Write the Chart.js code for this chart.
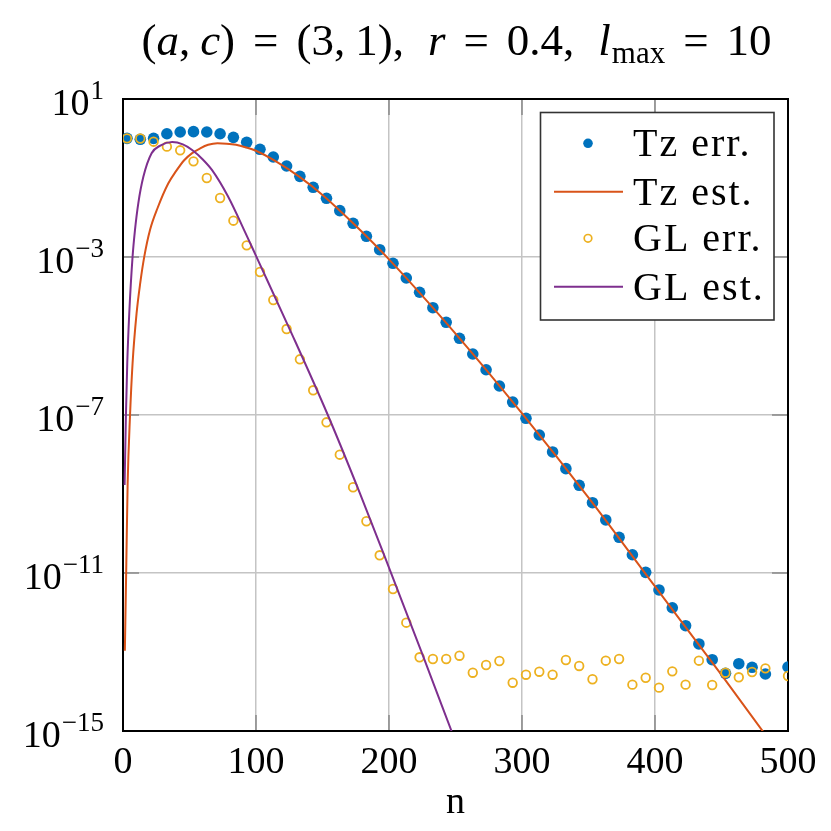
<!DOCTYPE html>
<html>
<head>
<meta charset="utf-8">
<script src="https://cdn.jsdelivr.net/npm/chart.js@4.4.1/dist/chart.umd.min.js"></script>
<style>
  html, body { margin: 0; padding: 0; background: #fff; }
  #wrap { width: 831px; height: 831px; }
</style>
</head>
<body>
<div id="wrap"><canvas id="errCanvas" width="831" height="831"></canvas></div>
<script>
// sample points (n) of the two error series
const nErr = [3, 13, 23, 33, 43, 53, 63, 73, 83, 93, 103, 113, 123, 133, 143, 153, 163, 173, 183, 193,
  203, 213, 223, 233, 243, 253, 263, 273, 283, 293, 303, 313, 323, 333, 343, 353, 363, 373, 383, 393,
  403, 413, 423, 433, 443, 453, 463, 473, 483, 500];

const tzErr = [1.01, 0.955, 1.01, 1.32, 1.46, 1.49, 1.46, 1.32, 1.07, 0.80, 0.533, 0.340, 0.201, 0.110,
  5.82e-2, 3.06e-2, 1.49e-2, 7.13e-3, 3.34e-3, 1.53e-3, 6.93e-4, 2.94e-4, 1.28e-4, 5.20e-5, 2.22e-5,
  8.75e-6, 3.50e-6, 1.40e-6, 5.42e-7, 2.13e-7, 8.24e-8, 3.12e-8, 1.16e-8, 4.38e-9, 1.66e-9, 6.03e-10,
  2.20e-10, 8.02e-11, 2.90e-11, 1.04e-11, 3.72e-12, 1.32e-12, 4.63e-13, 1.60e-13, 6.38e-14, 2.89e-14,
  5.06e-14, 4.10e-14, 2.77e-14, 4.17e-14];

const glErr = [1.01, 1.00, 0.83, 0.621, 0.502, 0.264, 0.100, 3.12e-2, 8.30e-3, 1.97e-3, 4.17e-4, 8.15e-5,
  1.50e-5, 2.57e-6, 4.22e-7, 6.53e-8, 9.89e-9, 1.48e-9, 2.04e-10, 2.81e-11, 3.94e-12, 5.52e-13, 7.35e-14,
  6.65e-14, 6.65e-14, 8.05e-14, 2.99e-14, 4.69e-14, 5.92e-14, 1.67e-14, 2.66e-14, 3.17e-14, 2.66e-14,
  6.27e-14, 4.43e-14, 2.04e-14, 6.03e-14, 6.65e-14, 1.49e-14, 2.23e-14, 1.25e-14, 3.24e-14, 1.49e-14,
  6.03e-14, 1.46e-14, 2.99e-14, 2.29e-14, 3.12e-14, 3.86e-14, 2.47e-14];

// estimate curves
const nTzEst = [1.4, 2.5, 3.5, 5.3, 7.2, 10.2, 13, 16, 20.3, 26, 34, 40, 46, 52, 58, 64, 71, 78, 85, 92,
  100, 115, 133, 150, 175, 200, 250, 300, 350, 400, 450, 482];
const tzEst = [1.07e-13, 1.78e-11, 1.86e-9, 1.0e-7, 2.04e-6, 3.72e-5, 2.24e-4, 1.02e-3, 4.83e-3, 1.74e-2,
  7.24e-2, 0.151, 0.282, 0.427, 0.562, 0.692, 0.759, 0.741, 0.692, 0.603, 0.490, 0.263, 0.105, 3.72e-2,
  6.17e-3, 8.71e-4, 1.15e-5, 1.10e-7, 8.13e-10, 4.57e-12, 2.63e-14, 8.9e-16];

const nGlEst = [1.2, 2.2, 3.2, 4.7, 7.2, 9, 11.5, 15.3, 21.5, 28, 37, 45, 52, 60, 67, 79, 93, 100, 127,
  154, 178, 201, 225, 247];
const glEst = [1.70e-9, 1.0e-7, 2.04e-6, 3.72e-5, 1.02e-3, 4.79e-3, 2.29e-2, 0.107, 0.422, 0.661, 0.813,
  0.708, 0.513, 0.295, 0.158, 3.39e-2, 3.47e-3, 1.07e-3, 1.12e-5, 1.0e-7, 1.07e-9, 1.12e-11, 8.91e-14, 1.0e-15];

const xTicks = [0, 100, 200, 300, 400, 500];
const yTicks = [1e1, 1e-3, 1e-7, 1e-11, 1e-15];
const yExp = ["1", "\u22123", "\u22127", "\u221211", "\u221215"];

const blue = "#0072BD", orange = "#D95319", yellow = "#EDB120", purple = "#7E2F8E";
const serif = '"Liberation Serif", "DejaVu Serif", serif';

function pts(xs, ys) {
    return xs.map((x, i) => ({x: x, y: ys[i]}));
}

function seg(ctx, x1, y1, x2, y2) {
    ctx.beginPath();
    ctx.moveTo(x1, y1);
    ctx.lineTo(x2, y2);
    ctx.stroke();
}

const framePlugin = {
    id: "frame",
    beforeDatasetsDraw(chart) {
        const {ctx, chartArea: a, scales: {x, y}} = chart;
        ctx.save();
        ctx.strokeStyle = "#8a8a8a";
        ctx.lineWidth = 1.5;
        yTicks.forEach(v => {
            const py = y.getPixelForValue(v);
            seg(ctx, a.left, py, a.left + 16, py);
            seg(ctx, a.right - 16, py, a.right, py);
        });
        xTicks.forEach(v => {
            const px = x.getPixelForValue(v);
            seg(ctx, px, a.bottom, px, a.bottom - 16);
            seg(ctx, px, a.top, px, a.top + 16);
        });
        ctx.strokeStyle = "#000";
        ctx.lineWidth = 2;
        ctx.strokeRect(a.left, a.top, a.width, a.height);
        ctx.restore();
    },
    afterDraw(chart) {
        const {ctx, chartArea: a, scales: {y}} = chart;
        ctx.save();
        ctx.fillStyle = "#000";
        ctx.textAlign = "left";
        ctx.textBaseline = "alphabetic";

        // y tick labels 10^k
        yTicks.forEach((v, i) => {
            const py = y.getPixelForValue(v);
            ctx.font = "38px " + serif;
            const wBase = ctx.measureText("10").width;
            ctx.font = "27px " + serif;
            const wExp = ctx.measureText(yExp[i]).width;
            const right = 104;
            ctx.fillText(yExp[i], right - wExp, py);
            ctx.font = "38px " + serif;
            ctx.fillText("10", right - wExp - wBase - 1, py + 16);
        });

        // title, math letters in italic
        const parts = [["(", "n", 0], ["a", "i", 0], [",", "n", 10], ["c", "i", 0], [")", "n", 18],
            ["=", "n", 18], ["(3,", "n", 10], ["1),", "n", 24], ["r", "i", 18], ["=", "n", 18],
            ["0.4,", "n", 24], ["l", "i", 1], ["max", "s", 18], ["=", "n", 18], ["10", "n", 0]];
        const fontFor = k => k === "i" ? "italic 45px " + serif : (k === "s" ? "31px " + serif : "45px " + serif);
        let total = 0;
        parts.forEach(p => { ctx.font = fontFor(p[1]); total += ctx.measureText(p[0]).width + p[2]; });
        let tx = (138 + 775) / 2 - total / 2;
        parts.forEach(p => {
            ctx.font = fontFor(p[1]);
            ctx.fillText(p[0], tx, p[1] === "s" ? 63 : 55);
            tx += ctx.measureText(p[0]).width + p[2];
        });

        // legend box
        const bx = 540.5, by = 112.5, bw = 233.5, bh = 207.5;
        ctx.fillStyle = "#fff";
        ctx.fillRect(bx, by, bw, bh);
        ctx.strokeStyle = "#333";
        ctx.lineWidth = 1.6;
        ctx.strokeRect(bx, by, bw, bh);
        const rows = [143.3, 191.7, 238.3, 286.7];
        const names = ["Tz err.", "Tz est.", "GL err.", "GL est."];
        ctx.fillStyle = blue;
        ctx.beginPath(); ctx.arc(588, rows[0], 4.8, 0, 2 * Math.PI); ctx.fill();
        ctx.lineWidth = 2;
        ctx.strokeStyle = orange; seg(ctx, 554, rows[1], 623, rows[1]);
        ctx.strokeStyle = purple; seg(ctx, 554, rows[3], 623, rows[3]);
        ctx.strokeStyle = yellow; ctx.lineWidth = 1.7;
        ctx.beginPath(); ctx.arc(588, rows[2], 3.8, 0, 2 * Math.PI); ctx.stroke();
        ctx.fillStyle = "#000";
        ctx.font = "40px " + serif;
        ctx.letterSpacing = "2px";
        names.forEach((t, i) => ctx.fillText(t, 633, rows[i] + 13));
        ctx.restore();
    }
};

const errChart = new Chart(document.getElementById("errCanvas"), {
    type: "scatter",
    data: {
        datasets: [
            {
                label: "Tz err.",
                data: pts(nErr, tzErr),
                showLine: false,
                pointRadius: 5.8,
                pointBorderWidth: 0,
                pointBackgroundColor: blue,
                order: 4
            },
            {
                label: "Tz est.",
                data: pts(nTzEst, tzEst),
                showLine: true,
                borderColor: orange,
                borderWidth: 2,
                pointRadius: 0,
                cubicInterpolationMode: "monotone",
                order: 3
            },
            {
                label: "GL err.",
                data: pts(nErr, glErr),
                showLine: false,
                pointRadius: 4.3,
                pointBorderWidth: 1.8,
                pointBorderColor: yellow,
                pointBackgroundColor: "rgba(0,0,0,0)",
                order: 2
            },
            {
                label: "GL est.",
                data: pts(nGlEst, glEst),
                showLine: true,
                borderColor: purple,
                borderWidth: 2,
                pointRadius: 0,
                cubicInterpolationMode: "monotone",
                order: 1
            }
        ]
    },
    options: {
        responsive: false,
        devicePixelRatio: 1,
        animation: false,
        events: [],
        layout: {padding: {left: 0, right: 43, top: 99, bottom: 0}},
        plugins: {legend: {display: false}, title: {display: false}, tooltip: {enabled: false}},
        scales: {
            x: {
                type: "linear",
                min: 0,
                max: 500,
                afterBuildTicks: s => { s.ticks = xTicks.map(v => ({value: v})); },
                afterFit: s => { s.height = 100; },
                grid: {color: "#c4c4c4", lineWidth: 1.5, drawTicks: false},
                border: {display: false},
                ticks: {color: "#000", padding: 9, font: {family: serif, size: 38}, maxRotation: 0},
                title: {display: true, text: "n", color: "#000", font: {family: serif, size: 38}, padding: {top: 0, bottom: 5}}
            },
            y: {
                type: "logarithmic",
                min: 1e-15,
                max: 10,
                afterBuildTicks: s => { s.ticks = yTicks.map(v => ({value: v})); },
                afterFit: s => { s.width = 123; },
                grid: {color: "#c4c4c4", lineWidth: 1.5, drawTicks: false},
                border: {display: false},
                ticks: {display: false}
            }
        }
    },
    plugins: [framePlugin]
});
</script>
</body>
</html>
